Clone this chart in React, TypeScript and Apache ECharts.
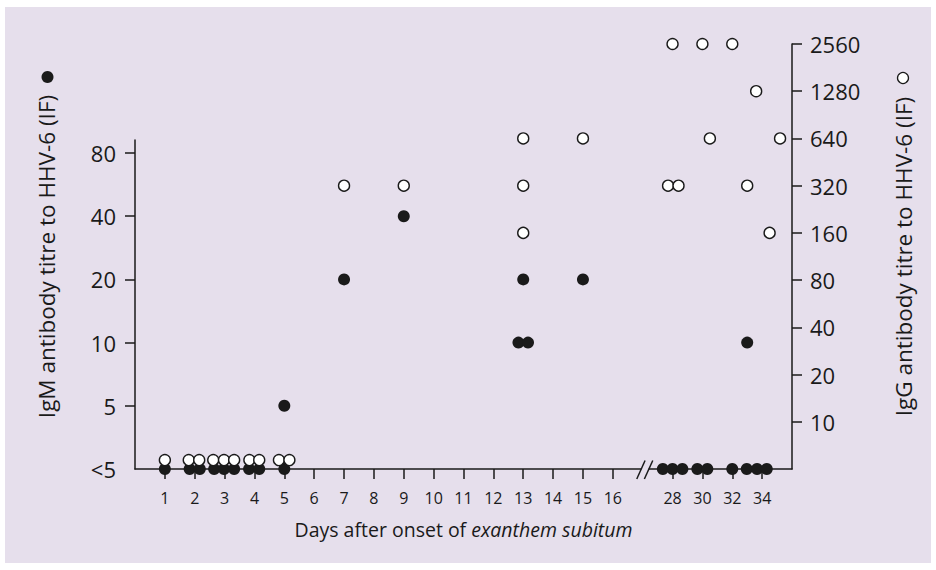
import React, { useEffect, useRef } from "react";
import * as echarts from "echarts";

// ---- data ----
// IgM titres (0 means "<5"), day of sampling (small offsets separate overlapping samples)
const IGM_DAYS = [
  1, 1.83, 2.17, 2.65, 2.98, 3.32, 3.82, 4.16, 5, 5,
  7, 9, 13, 12.84, 13.16, 15,
  27.35, 28, 28.66, 29.66, 30.33, 32, 32.97, 33.66, 34.31, 33,
];
const IGM_TITRES = [
  0, 0, 0, 0, 0, 0, 0, 0, 0, 5,
  20, 40, 20, 10, 10, 20,
  0, 0, 0, 0, 0, 0, 0, 0, 0, 10,
];
// IgG titres (0 means "<10")
const IGG_DAYS = [
  1, 1.8, 2.15, 2.62, 2.98, 3.32, 3.83, 4.16, 4.82, 5.17,
  7, 9, 13, 13, 13, 15,
  28, 30, 32, 33.6, 30.5, 35.2, 27.7, 28.4, 33, 34.5,
];
const IGG_TITRES = [
  0, 0, 0, 0, 0, 0, 0, 0, 0, 0,
  320, 320, 640, 320, 160, 640,
  2560, 2560, 2560, 1280, 640, 640, 320, 320, 320, 160,
];
const X_TICK_DAYS = [1, 2, 3, 4, 5, 6, 7, 8, 9, 10, 11, 12, 13, 14, 15, 16, 28, 30, 32, 34];
const IGM_TICKS = ["<5", "5", "10", "20", "40", "80"];
const IGG_TICKS = ["10", "20", "40", "80", "160", "320", "640", "1280", "2560"];

// ---- scale helpers ----
const dayToPos = (d: number) => (d <= 16 ? d : 18 + (d - 28) / 2);
const posToDay = (p: number) => (p <= 16 ? p : 28 + (p - 18) * 2);
const igmToAxis = (t: number) => (t === 0 ? 0 : Math.log2(t / 2.5));
const iggToAxis = (t: number) => (t === 0 ? 0.19 : Math.log2(t / 5));
const BREAK_POS = 17.07;

const BG = "#e6dfec";
const INK = "#1a1a1a";
const FONT = "'Open Sans', 'Noto Sans', sans-serif";

export default function App() {
  const ref = useRef<HTMLDivElement>(null);
  useEffect(() => {
    if (!ref.current) return;
    const chart = echarts.init(ref.current, null, { renderer: "svg" });
    const xTickPos = X_TICK_DAYS.map(dayToPos);
    const igmData = IGM_DAYS.map((d, i) => [dayToPos(d), igmToAxis(IGM_TITRES[i])]);
    const iggData = IGG_DAYS.map((d, i) => [dayToPos(d), iggToAxis(IGG_TITRES[i])]);
    const grids = [
      { left: 135, right: 144, top: 140, bottom: 101 },
      { left: 135, right: 144, top: 44, bottom: 101 },
    ];
    chart.setOption({
      animation: false,
      backgroundColor: "transparent",
      textStyle: { fontFamily: FONT, color: INK },
      graphic: [
        { type: "rect", z: -10, shape: { x: 5, y: 7, width: 926, height: 556 }, style: { fill: BG } },
        { type: "circle", shape: { cx: 47.5, cy: 77, r: 6 }, style: { fill: INK } },
        { type: "circle", shape: { cx: 903, cy: 78, r: 5.5 }, style: { fill: "#fff", stroke: INK, lineWidth: 1.3 } },
      ],
      grid: grids,
      xAxis: [
        {
          type: "value",
          gridIndex: 0,
          min: 0,
          max: 22,
          axisLine: { onZero: false, lineStyle: { color: INK, width: 1.5 } },
          axisTick: { customValues: xTickPos, length: 10, inside: false, lineStyle: { color: INK, width: 1.5 } },
          axisLabel: {
            customValues: xTickPos,
            margin: 21,
            fontSize: 16,
            color: INK,
            formatter: (v: number) => String(Math.round(posToDay(v))),
          },
          splitLine: { show: false },
          name: "{r|Days after onset of }{i|exanthem subitum}",
          nameLocation: "middle",
          nameGap: 50,
          nameTextStyle: {
            rich: {
              r: { fontSize: 19.5, color: INK, fontFamily: FONT },
              i: { fontSize: 19.5, color: INK, fontStyle: "italic", fontFamily: FONT },
            },
          },
        },
        { type: "value", gridIndex: 1, min: 0, max: 22, show: false, axisLine: { onZero: false } },
      ],
      yAxis: [
        {
          type: "value",
          gridIndex: 0,
          position: "left",
          min: 0,
          max: 5.206,
          axisLine: { show: true, onZero: false, lineStyle: { color: INK, width: 1.5 } },
          axisTick: { show: true, customValues: [1, 2, 3, 4, 5], length: 10, lineStyle: { color: INK, width: 1.5 } },
          axisLabel: {
            customValues: [0, 1, 2, 3, 4, 5],
            margin: 19,
            fontSize: 22,
            color: INK,
            formatter: (v: number) => IGM_TICKS[Math.round(v)],
          },
          splitLine: { show: false },
        },
        {
          type: "value",
          gridIndex: 1,
          position: "right",
          min: 0,
          max: 9,
          axisLine: { show: true, onZero: false, lineStyle: { color: INK, width: 1.5 } },
          axisTick: { show: true, customValues: [1, 2, 3, 4, 5, 6, 7, 8, 9], length: 10, lineStyle: { color: INK, width: 1.5 } },
          axisLabel: {
            customValues: [1, 2, 3, 4, 5, 6, 7, 8, 9],
            margin: 18,
            fontSize: 22,
            color: INK,
            formatter: (v: number) => IGG_TICKS[Math.round(v) - 1],
          },
          splitLine: { show: false },
          name: "IgG antibody titre to HHV-6 (IF)",
          nameLocation: "middle",
          nameRotate: 90,
          nameGap: 100,
          nameTextStyle: { fontSize: 22.5, color: INK },
        },
        {
          type: "value",
          gridIndex: 1,
          position: "left",
          min: 0,
          max: 9,
          axisLine: { show: false, onZero: false },
          axisTick: { show: false },
          axisLabel: { show: false },
          splitLine: { show: false },
          name: "IgM antibody titre to HHV-6 (IF)",
          nameLocation: "middle",
          nameRotate: 90,
          nameGap: 77,
          nameTextStyle: { fontSize: 22.5, color: INK },
        },
      ],
      series: [
        {
          name: "IgM",
          type: "scatter",
          xAxisIndex: 0,
          yAxisIndex: 0,
          clip: false,
          symbol: "circle",
          symbolSize: 12,
          itemStyle: { color: INK, opacity: 1 },
          data: igmData,
          z: 3,
        },
        {
          name: "IgG",
          type: "scatter",
          xAxisIndex: 1,
          yAxisIndex: 1,
          clip: false,
          symbol: "circle",
          symbolSize: 11,
          itemStyle: { color: "#ffffff", borderColor: INK, borderWidth: 1.4, opacity: 1 },
          data: iggData,
          z: 4,
        },
        {
          name: "break",
          type: "custom",
          xAxisIndex: 0,
          yAxisIndex: 0,
          clip: false,
          z: 5,
          data: [[BREAK_POS, 0]],
          renderItem: (params: any, api: any) => {
            const p = api.coord([api.value(0), api.value(1)]);
            return {
              type: "group",
              children: [
                { type: "rect", shape: { x: p[0] - 3.6, y: p[1] - 2, width: 7.4, height: 4 }, style: { fill: BG } },
                { type: "line", shape: { x1: p[0] - 8, y1: p[1] + 10, x2: p[0] + 0.3, y2: p[1] - 8.5 }, style: { stroke: INK, lineWidth: 1.5 } },
                { type: "line", shape: { x1: p[0] - 0.4, y1: p[1] + 10, x2: p[0] + 8, y2: p[1] - 8.5 }, style: { stroke: INK, lineWidth: 1.5 } },
              ],
            };
          },
        },
      ],
    });
    return () => chart.dispose();
  }, []);
  return (
    <div
      ref={ref}
      style={{ position: "fixed", left: 0, top: 0, width: 936, height: 570, background: "#fff" }}
    />
  );
}
